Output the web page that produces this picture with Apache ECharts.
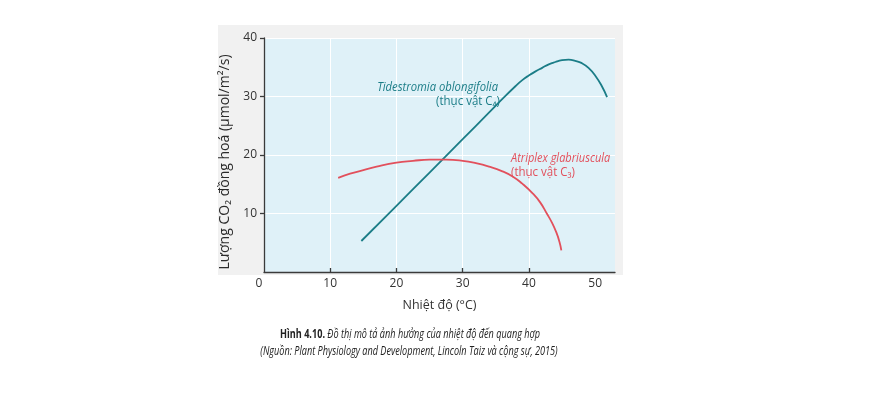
<!DOCTYPE html>
<html><head><meta charset="utf-8">
<script src="https://cdn.jsdelivr.net/npm/echarts@6/dist/echarts.min.js"></script>
<style>html,body{margin:0;padding:0;background:#fff}#c{width:896px;height:397px}</style>
</head><body><div id="c"></div>
<script>
// Data
const xTicks = [0, 10, 20, 30, 40, 50];
const yTicks = [10, 20, 30, 40];
const c4Temp = [14.7, 20, 25, 30, 34, 36, 38, 39, 40, 41, 42, 43, 44, 45, 46, 47, 48, 49, 50, 51, 51.8];
const c4Rate = [5.3, 11.3, 17.0, 22.7, 27.3, 29.6, 31.8, 32.8, 33.6, 34.3, 34.9, 35.5, 35.9, 36.2, 36.3, 36.1, 35.7, 34.9, 33.6, 31.8, 29.9];
const c3Temp = [11.2, 13, 15, 17, 20, 22.5, 25, 27.5, 30, 32, 34, 36, 37.6, 39, 40.6, 41.7, 42.7, 43.5, 44.2, 44.6, 44.9];
const c3Rate = [16.1, 16.8, 17.4, 18.0, 18.7, 19.0, 19.2, 19.2, 19.0, 18.6, 18.0, 17.2, 16.3, 15.1, 13.4, 11.9, 10.0, 8.4, 6.6, 5.2, 3.7];
const c4Name = 'Tidestromia oblongifolia';
const c4Sub = '(thục vật C₄)';
const c3Name = 'Atriplex glabriuscula';
const c3Sub = '(thục vật C₃)';
const xTitle = 'Nhiệt độ (°C)';
const yTitle = 'Lượng CO₂ đồng hoá (µmol/m²/s)';
const captionBold = 'Hình 4.10.';
const captionItalic = ' Đồ thị mô tả ảnh hưởng của nhiệt độ đến quang hợp';
const captionSource = '(Nguồn: Plant Physiology and Development, Lincoln Taiz và cộng sự, 2015)';

const TEAL = '#1b7d87';
const RED = '#e2505c';
const FONT = '"Open Sans", "Noto Sans", sans-serif';

const chart = echarts.init(document.getElementById('c'), null, {renderer: 'canvas'});
const zip = (a, b) => a.map((v, i) => [v, b[i]]);

chart.setOption({
  animation: false,
  textStyle: {fontFamily: FONT},
  grid: {left: 264, right: 281, top: 38, bottom: 125, show: true, backgroundColor: '#dff1f8', borderWidth: 0},
  xAxis: {
    type: 'value', min: 0, max: 53, interval: 10,
    name: xTitle, nameLocation: 'middle', nameGap: 27,
    nameTextStyle: {fontSize: 12.5, color: '#333', fontFamily: FONT},
    axisLine: {show: true, lineStyle: {color: '#3a3a3a', width: 1.3}},
    axisTick: {show: true, inside: true, length: 4, lineStyle: {color: '#3a3a3a', width: 1.3},
      customValues: [10, 20, 30, 40]},
    axisLabel: {
      customValues: xTicks, margin: 6, fontSize: 12, color: '#333', fontFamily: FONT,
      formatter: v => v === 0 ? '{z|0}' : String(v),
      rich: {z: {fontSize: 12, color: '#333', fontFamily: FONT, padding: [0, 10, 0, 0]}}
    },
    splitLine: {show: true, lineStyle: {color: '#ffffff', width: 1}}
  },
  yAxis: {
    type: 'value', min: 0, max: 40, interval: 10,
    axisLine: {show: true, lineStyle: {color: '#3a3a3a', width: 1.3}},
    axisTick: {show: true, inside: false, length: 4, lineStyle: {color: '#3a3a3a', width: 1.3},
      customValues: yTicks},
    axisLabel: {customValues: yTicks, margin: 7, fontSize: 12, color: '#333', fontFamily: FONT},
    splitLine: {show: true, lineStyle: {color: '#ffffff', width: 1}}
  },
  series: [
    {type: 'line', name: c4Name, data: zip(c4Temp, c4Rate), smooth: 0.5, showSymbol: false,
      lineStyle: {color: TEAL, width: 1.8}, z: 3},
    {type: 'line', name: c3Name, data: zip(c3Temp, c3Rate), smooth: 0.5, showSymbol: false,
      lineStyle: {color: RED, width: 1.8}, z: 3}
  ]
});

chart.setOption({
  graphic: [
    {type: 'rect', z: -10, silent: true, shape: {x: 218, y: 25, width: 405, height: 250},
      style: {fill: '#f1f1f1'}},
    {type: 'text', x: 225, y: 162, rotation: Math.PI / 2, style: {text: yTitle, fill: '#2a2a2a',
      font: '500 14px ' + FONT, textAlign: 'center', textVerticalAlign: 'middle'}},
    {type: 'text', x: 498, y: 87, scaleX: 0.9, style: {text: c4Name, fill: TEAL, font: 'italic 12.5px ' + FONT,
      textAlign: 'right', textVerticalAlign: 'middle'}},
    {type: 'text', x: 500, y: 101, scaleX: 0.92, style: {text: c4Sub, fill: TEAL, font: '12.5px ' + FONT,
      textAlign: 'right', textVerticalAlign: 'middle'}},
    {type: 'text', x: 511, y: 158, scaleX: 0.88, style: {text: c3Name, fill: RED, font: 'italic 12.5px ' + FONT,
      textAlign: 'left', textVerticalAlign: 'middle'}},
    {type: 'text', x: 511, y: 172, scaleX: 0.92, style: {text: c3Sub, fill: RED, font: '12.5px ' + FONT,
      textAlign: 'left', textVerticalAlign: 'middle'}},
    {type: 'text', x: 410, y: 335, scaleX: 0.76, style: {
      text: '{b|' + captionBold + '}{i|' + captionItalic + '}', textAlign: 'center', textVerticalAlign: 'middle',
      rich: {b: {font: 'bold 12px ' + FONT, fill: '#222'}, i: {font: 'italic 12px ' + FONT, fill: '#222'}}}},
    {type: 'text', x: 409, y: 352, scaleX: 0.76, style: {
      text: captionSource, font: 'italic 12px ' + FONT, fill: '#222', textAlign: 'center', textVerticalAlign: 'middle'}}
  ]
});
</script></body></html>
